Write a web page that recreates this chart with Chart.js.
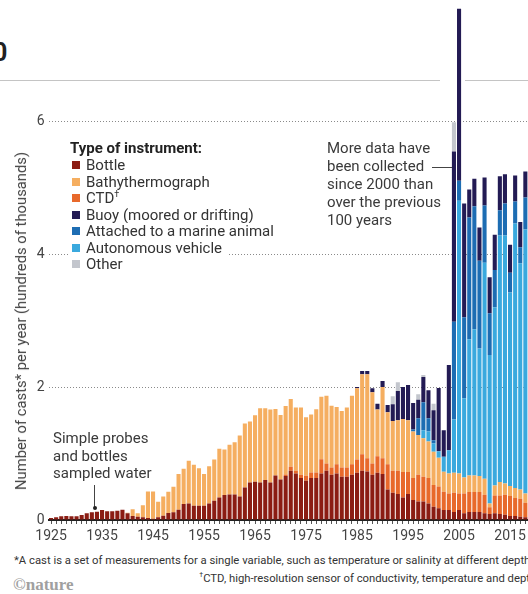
<!DOCTYPE html>
<html><head><meta charset="utf-8">
<script src="https://cdn.jsdelivr.net/npm/chart.js@4.4.1/dist/chart.umd.min.js"></script>
<style>
html,body{margin:0;padding:0;background:#fff;}
body{width:528px;height:594px;overflow:hidden;position:relative;font-family:Roboto,"Liberation Sans",Arial,sans-serif;color:#3a3a3a;}
#wrap{position:absolute;left:0;top:0;width:533px;height:550px;}
.abs{position:absolute;white-space:nowrap;}
#legend{position:absolute;left:70px;top:139px;display:flex;flex-direction:column;align-items:flex-start;}
#legend .ttl{font-weight:700;font-size:15px;color:#222;line-height:18px;background:#fff;padding-right:2px;}
#legend .row{font-size:15px;line-height:16.5px;background:#fff;display:flex;align-items:center;padding-right:6px;color:#333;}
#legend .sw{width:8px;height:8px;margin:0 6px 0 2px;display:inline-block;}
#legend sup{font-size:9px;line-height:0;}
.note{font-size:15px;line-height:17.5px;color:#3a3a3a;}
#ytitle{left:21px;top:321px;transform:translate(-50%,-50%) rotate(-90deg);font-size:14.8px;color:#444;}
#foot{left:14px;top:554px;font-size:11.3px;line-height:14px;color:#333;text-align:right;display:inline-block;}
#logo{left:13px;top:575px;font-family:"Liberation Serif",serif;font-weight:700;font-size:17px;color:#a0a0a0;}
</style></head>
<body>
<div class="abs" style="left:-7px;top:38px;font-size:25px;font-weight:700;color:#222;">0</div>
<div class="abs" style="left:0;top:80px;width:440px;height:1px;background:#c4c4c4;"></div>
<div class="abs" style="left:465px;top:80px;width:63px;height:1px;background:#c4c4c4;"></div>
<div id="wrap"><canvas id="c" width="533" height="550"></canvas></div>
<div id="ytitle" class="abs">Number of casts* per year (hundreds of thousands)</div>
<div id="legend"></div>
<div class="abs note" style="left:53px;top:430px;">Simple probes<br>and bottles<br>sampled water</div>
<div class="abs" style="left:94px;top:485px;width:1px;height:23px;background:#444;"></div>
<div class="abs" style="left:92.5px;top:506px;width:4px;height:4px;border-radius:2px;background:#222;"></div>
<div class="abs note" style="left:327px;top:139px;line-height:18px;">More data have<br>been collected<br>since 2000 than<br>over the previous<br>100 years</div>
<div class="abs" style="left:432px;top:167px;width:20px;height:1px;background:#444;"></div>
<div id="foot" class="abs">*A cast is a set of measurements for a single variable, such as temperature or salinity at different depths.<br><sup style="font-size:7px">†</sup>CTD, high-resolution sensor of conductivity, temperature and depth.</div>
<div id="logo" class="abs">©nature</div>
<script>
const years = [1925,1926,1927,1928,1929,1930,1931,1932,1933,1934,
1935,1936,1937,1938,1939,1940,1941,1942,1943,1944,
1945,1946,1947,1948,1949,1950,1951,1952,1953,1954,
1955,1956,1957,1958,1959,1960,1961,1962,1963,1964,
1965,1966,1967,1968,1969,1970,1971,1972,1973,1974,
1975,1976,1977,1978,1979,1980,1981,1982,1983,1984,
1985,1986,1987,1988,1989,1990,1991,1992,1993,1994,
1995,1996,1997,1998,1999,2000,2001,2002,2003,2004,
2005,2006,2007,2008,2009,2010,2011,2012,2013,2014,
2015,2016,2017,2018,2019];
const xTickLabels = ['1925','1935','1945','1955','1965','1975','1985','1995','2005','2015'];
const yTicks = [0,2,4,6];

// values in hundreds of thousands of casts
const bottle = [0.03,0.04,0.055,0.06,0.055,0.055,0.075,0.10,0.115,0.125,
0.15,0.13,0.13,0.14,0.155,0.10,0.06,0.05,0.04,0.03,
0.02,0.04,0.065,0.105,0.115,0.155,0.24,0.25,0.215,0.215,
0.215,0.25,0.29,0.34,0.375,0.385,0.385,0.355,0.49,0.565,
0.575,0.565,0.60,0.565,0.67,0.61,0.66,0.74,0.70,0.63,
0.59,0.63,0.63,0.70,0.74,0.68,0.70,0.65,0.65,0.68,
0.71,0.74,0.73,0.68,0.71,0.69,0.46,0.41,0.39,0.34,
0.39,0.30,0.28,0.28,0.25,0.20,0.175,0.15,0.15,0.12,
0.15,0.10,0.12,0.12,0.12,0.10,0.09,0.10,0.09,0.08,
0.06,0.06,0.05,0.04,0.04];
const ctd = [0,0,0,0,0,0,0,0,0,0,
0,0,0,0,0,0,0,0,0,0,
0,0,0,0,0,0,0,0,0,0,
0,0,0,0,0,0,0,0,0,0,
0,0,0,0,0,0,0.025,0.06,0.04,0.05,
0.075,0.085,0.085,0.215,0.11,0.11,0.14,0.14,0.14,0.16,
0.20,0.25,0.20,0.17,0.25,0.24,0.38,0.33,0.35,0.38,
0.33,0.33,0.40,0.37,0.38,0.325,0.33,0.275,0.25,0.29,
0.25,0.30,0.30,0.30,0.30,0.28,0.10,0.27,0.28,0.30,
0.30,0.27,0.27,0.22,0.20];
const bathy = [0,0,0,0,0,0,0,0,0,0,
0,0,0,0,0,0.01,0.10,0.05,0.18,0.40,
0.41,0.235,0.29,0.32,0.385,0.535,0.53,0.64,0.615,0.565,
0.475,0.56,0.62,0.73,0.685,0.745,0.785,0.915,0.96,0.915,
1.0,1.115,1.08,1.095,1.0,0.97,1.03,1.02,0.95,1.01,
0.88,0.87,0.95,0.94,1.02,0.93,0.86,0.85,0.90,1.03,
1.07,1.20,1.26,1.07,0.70,1.07,0.78,0.75,0.76,0.80,
0.78,0.70,0.60,0.58,0.55,0.50,0.43,0.30,0.30,0.30,
0.30,0.24,0.25,0.25,0.24,0.24,0.06,0.15,0.20,0.17,
0.15,0.15,0.14,0.14,0.10];
const autonomous = [0,0,0,0,0,0,0,0,0,0,
0,0,0,0,0,0,0,0,0,0,
0,0,0,0,0,0,0,0,0,0,
0,0,0,0,0,0,0,0,0,0,
0,0,0,0,0,0,0,0,0,0,
0,0,0,0,0,0,0,0,0,0,
0,0,0,0,0,0,0,0,0,0,
0,0,0,0.12,0.15,0.125,0.10,0.225,0.35,0.80,
4.1,1.19,2.05,2.2,1.92,3.25,2.23,2.68,3.71,3.73,
2.91,3.98,3.40,3.97,2.30];
const animal = [0,0,0,0,0,0,0,0,0,0,
0,0,0,0,0,0,0,0,0,0,
0,0,0,0,0,0,0,0,0,0,
0,0,0,0,0,0,0,0,0,0,
0,0,0,0,0,0,0,0,0,0,
0,0,0,0,0,0,0,0,0,0,
0,0,0,0,0,0,0,0,0,0,
0,0.03,0.25,0.42,0.20,0.05,0,0,0,1.47,
0.30,1.22,1.83,1.85,1.32,0.86,0.63,0.56,0.38,0.48,
0.30,0.33,0.24,0.48,0.45];
const buoy = [0,0,0,0,0,0,0,0,0,0,
0,0,0,0,0,0,0,0,0,0,
0,0,0,0,0,0,0,0,0,0,
0,0,0,0,0,0,0,0,0,0,
0,0,0,0,0,0,0,0,0,0,
0,0,0,0,0,0,0,0,0,0,
0.02,0.05,0.05,0.06,0.09,0.09,0.11,0.25,0.44,0.48,
0.53,0.40,0.28,0.38,0.42,0.45,0.95,0.40,1.28,2.56,
2.59,1.71,0.42,0.41,0.50,0.42,0.54,0.53,0.51,0.44,
0.42,0.39,0.38,0.39,0.65];
const other = [0,0,0,0,0,0,0,0,0,0,
0,0,0,0,0,0,0,0,0,0,
0,0,0,0,0,0,0,0,0,0,
0,0,0,0,0,0,0,0,0,0,
0,0,0,0,0,0,0,0,0,0,
0,0,0,0,0,0,0,0,0,0,
0,0,0,0,0,0,0,0.12,0.13,0,
0,0,0.08,0.03,0,0.10,0,0,0,0.44,
0,0,0,0,0,0,0,0,0,0,
0,0,0,0,0];

const seriesNames = ['Bottle','CTD†','Bathythermograph','Autonomous vehicle','Attached to a marine animal','Buoy (moored or drifting)','Other'];
const seriesColors = ['#8b1c13','#e8692b','#f5ae60','#3aa9de','#1d6db3','#231b54','#c3c6cd'];
const seriesData = [bottle, ctd, bathy, autonomous, animal, buoy, other];
const legendOrder = ['Bottle','Bathythermograph','CTD†','Buoy (moored or drifting)','Attached to a marine animal','Autonomous vehicle','Other'];

const datasets = seriesData.map((d,i)=>({
  label: seriesNames[i], data: d, backgroundColor: seriesColors[i],
  borderWidth: 0, barPercentage: 0.8, categoryPercentage: 1.0
}));

const chart = new Chart(document.getElementById('c'), {
  type: 'bar',
  data: { labels: years.map(String), datasets },
  options: {
    responsive: false, animation: false,
    layout: { padding: 0 },
    plugins: { legend: { display: false }, tooltip: { enabled: false } },
    scales: {
      x: {
        stacked: true,
        grid: { display: true, drawOnChartArea: false, drawTicks: true, tickLength: 4, color: '#555', offset: false, lineWidth: 1 },
        border: { display: true, color: '#222', width: 2 },
        ticks: {
          autoSkip: false, maxRotation: 0, minRotation: 0, padding: 4, color: '#444',
          font: { family: 'Roboto', size: 14 },
          callback: function(v){ const l = this.getLabelForValue(v); return xTickLabels.includes(l) ? l : ''; }
        },
        afterFit: s => { s.height = 30; s.paddingLeft = 0; s.paddingRight = 0; }
      },
      y: {
        stacked: true, min: 0, max: 7.82,
        afterBuildTicks: s => { s.ticks = yTicks.map(v => ({ value: v })); },
        grid: { drawTicks: false, lineWidth: 1, color: c => (c.tick && c.tick.value === 0) ? 'rgba(0,0,0,0)' : '#8a8a8a' },
        border: { display: false, dash: [1, 2] },
        ticks: { padding: 4, color: '#444', font: { family: 'Roboto', size: 14 } },
        afterFit: s => { s.width = 48.5; s.paddingTop = 0; s.paddingBottom = 0; }
      }
    }
  }
});

// HTML legend built from the chart's datasets
const lg = document.getElementById('legend');
const t = document.createElement('div'); t.className = 'ttl'; t.textContent = 'Type of instrument:'; lg.appendChild(t);
legendOrder.forEach(name => {
  const ds = chart.data.datasets.find(d => d.label === name);
  const row = document.createElement('div'); row.className = 'row';
  const sw = document.createElement('span'); sw.className = 'sw'; sw.style.background = ds.backgroundColor;
  row.appendChild(sw);
  const tx = document.createElement('span');
  if (name === 'CTD†') { tx.innerHTML = 'CTD<sup>†</sup>'; } else { tx.textContent = name; }
  row.appendChild(tx);
  lg.appendChild(row);
});
</script>
</body></html>
